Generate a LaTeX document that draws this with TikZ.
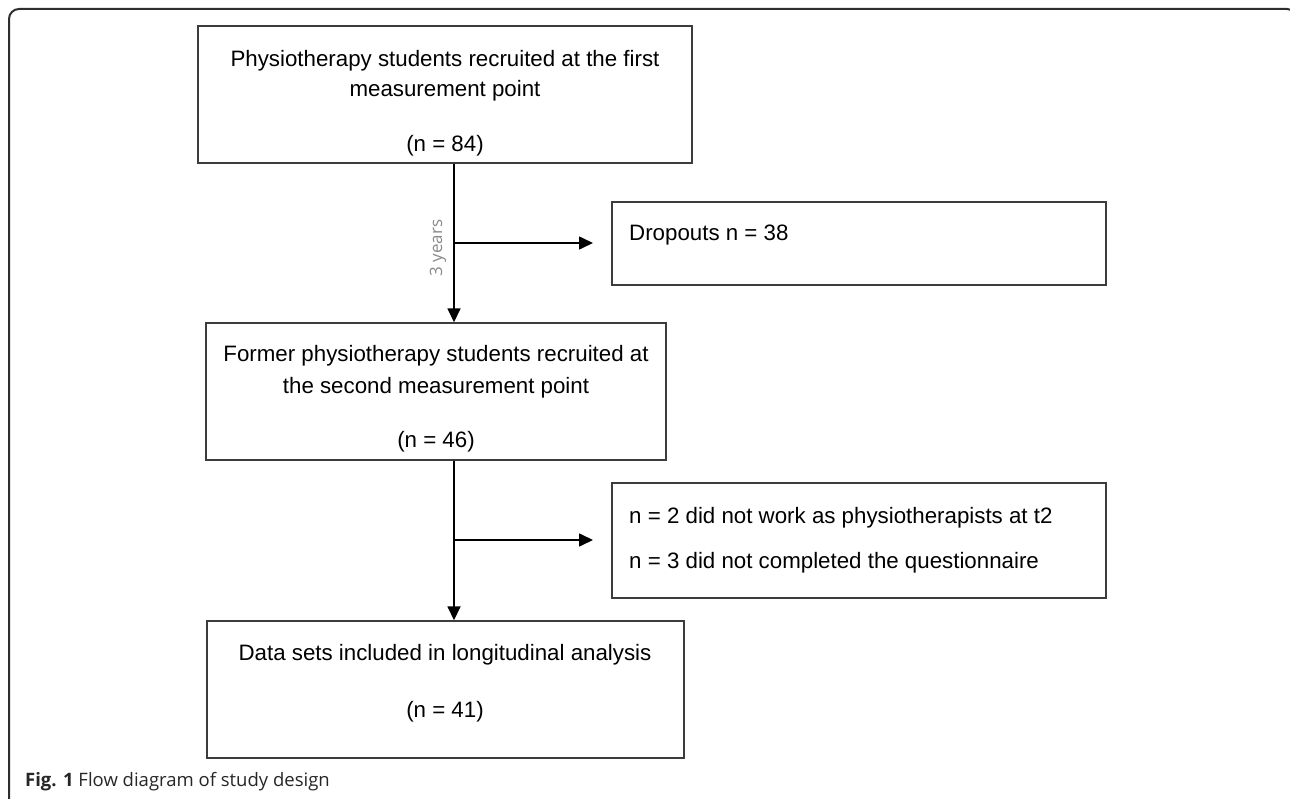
\documentclass[tikz,border=0pt]{standalone}
\usepackage{fontspec}
\setmainfont{Liberation Sans}
\newfontfamily\capfont{Open Sans}
\usetikzlibrary{arrows.meta}
\definecolor{framecol}{HTML}{2E2E2E}
\definecolor{boxcol}{HTML}{3C3C3C}
\definecolor{labelgray}{HTML}{8A8A8A}
\begin{document}
\begin{tikzpicture}[x=1pt,y=-1pt,
  box/.style={draw=boxcol,line width=1.4pt,rectangle,inner sep=0pt},
  txt/.style={inner sep=0pt,anchor=base,font=\fontsize{22.3}{30}\selectfont},
  ltxt/.style={inner sep=0pt,anchor=base west,font=\fontsize{22.3}{30}\selectfont},
  conn/.style={draw=black,line width=1.6pt},
  arr/.style={conn,-{Triangle[length=14pt,width=13pt]}}]
\useasboundingbox (0,0) rectangle (1290,799);
\begin{scope}
\clip (0,0) rectangle (1290,799);
\draw[framecol,line width=2pt,rounded corners=10pt] (9,830) -- (9,9) -- (1297,9) -- (1297,830);
\end{scope}
% boxes
\node[box,minimum width=494pt,minimum height=137pt] (b1) at (445,94.5) {};
\node[box,minimum width=494pt,minimum height=83pt] (d1) at (859,243.5) {};
\node[box,minimum width=460pt,minimum height=137pt] (b2) at (436,391.5) {};
\node[box,minimum width=494pt,minimum height=115pt] (d2) at (859,540.5) {};
\node[box,minimum width=477pt,minimum height=137pt] (b3) at (445.5,689.5) {};
% texts
\node[txt] (t11) at (445,67) {Physiotherapy students recruited at the first};
\node[txt] (t12) at (445,97) {measurement point};
\node[txt] (t13) at (445,152) {(n = 84)};
\node[ltxt] (td1) at (629,241) {Dropouts n = 38};
\node[txt] (t21) at (436,362) {Former physiotherapy students recruited at};
\node[txt] (t22) at (436,393) {the second measurement point};
\node[txt] (t23) at (436,447) {(n = 46)};
\node[ltxt] (td21) at (629,523) {n = 2 did not work as physiotherapists at t2};
\node[ltxt] (td22) at (629,568) {n = 3 did not completed the questionnaire};
\node[txt] (t31) at (445,660) {Data sets included in longitudinal analysis};
\node[txt] (t32) at (445,717) {(n = 41)};
% connectors
\coordinate (j1) at (454,243);
\coordinate (e1) at (593,243);
\coordinate (j2) at (454,540);
\coordinate (e2) at (593,540);
\draw[arr] (b1.south -| j1) -- (b2.north -| j1);
\draw[arr] (j1) -- (e1);
\draw[arr] (b2.south -| j2) -- (b3.north -| j2);
\draw[arr] (j2) -- (e2);
\node[inner sep=0pt,rotate=90,text=labelgray,font=\capfont\fontsize{17}{18}\selectfont] (yrs) at (438,248) {3 years};
% caption
\node[inner sep=0pt,anchor=base west,font=\capfont\fontsize{18.5}{20}\selectfont,text=black!85] (cap) at (25,786) {\textbf{Fig. 1} Flow diagram of study design};
\end{tikzpicture}
\end{document}
